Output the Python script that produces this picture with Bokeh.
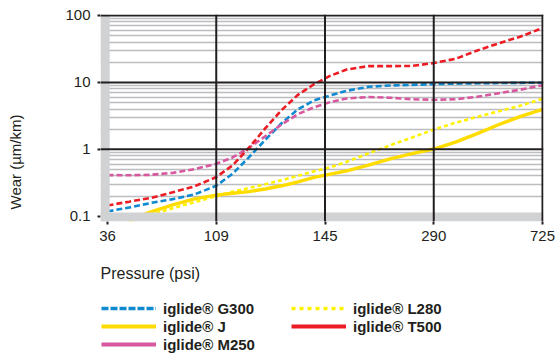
from bokeh.plotting import figure
from bokeh.layouts import column
from bokeh.models import (FixedTicker, CustomJSTickFormatter, Span, BoxAnnotation,
                          Title, Legend, LegendItem, Range1d)
from bokeh.embed import file_html
from bokeh.resources import INLINE

# ---------------- data ----------------
x_labels = ["36", "109", "145", "290", "725"]
pos = [0, 0.2, 0.4, 0.6, 0.8, 1.0, 1.15, 1.3, 1.45, 1.6, 1.75, 1.9, 2.05, 2.2,
       2.4, 2.6, 2.8, 3.0, 3.2, 3.4, 3.6, 3.8, 4.0]
g300 = [0.118, 0.135, 0.158, 0.18, 0.212, 0.285, 0.43, 0.76, 1.38, 2.45, 3.95, 5.4,
        6.4, 7.5, 8.6, 9.0, 9.2, 9.4, 9.6, 9.7, 9.8, 9.85, 9.9]
t500 = [0.145, 0.165, 0.188, 0.228, 0.28, 0.385, 0.575, 1.05, 2.05, 3.85, 6.5, 9.4,
        12.6, 15.6, 17.5, 17.5, 17.6, 19.5, 22.5, 30.0, 38.5, 48.5, 65.0]
m250 = [0.412, 0.41, 0.416, 0.445, 0.505, 0.608, 0.755, 1.05, 1.56, 2.35, 3.35, 4.25,
        5.1, 5.75, 6.05, 5.9, 5.6, 5.5, 5.6, 6.1, 6.9, 7.8, 9.1]
pos_y = [0.2, 0.4, 0.6, 0.8, 1.0, 1.15, 1.3, 1.45, 1.6, 1.75, 1.9, 2.05, 2.2,
         2.4, 2.6, 2.8, 3.0, 3.2, 3.4, 3.6, 3.8, 4.0]
j = [0.09, 0.116, 0.148, 0.182, 0.207, 0.22, 0.233, 0.255, 0.285, 0.325, 0.38, 0.425,
     0.475, 0.58, 0.72, 0.86, 1.01, 1.28, 1.72, 2.35, 3.1, 3.95]
l280 = [0.085, 0.105, 0.132, 0.162, 0.2, 0.232, 0.264, 0.3, 0.345, 0.4, 0.47, 0.54,
        0.65, 0.87, 1.15, 1.5, 1.97, 2.5, 3.05, 3.7, 4.5, 5.7]
y_ticks = [0.1, 1, 10, 100]
y_tick_labels = ["0.1", "1", "10", "100"]
series_names = ["iglide® G300", "iglide® J", "iglide® M250", "iglide® L280", "iglide® T500"]

# ---------------- style ----------------
FONT = "Liberation Sans"
TXT = "#231f20"
BAND = "#d1d2d4"
MINOR = "#bcbdc0"
BLUE, RED, PINK, YEL, LEMON = "#0f8ad0", "#ec1c24", "#d8589f", "#ffdc00", "#fff200"

W = 557
x0, x1 = -0.0644, 4.0092
y0, y1 = 0.0834, 103.5

p = figure(width=W, height=300, output_backend="svg", toolbar_location=None,
           y_axis_type="log", x_range=Range1d(x0, x1), y_range=Range1d(y0, y1),
           min_border_left=100, min_border_right=14, min_border_top=14,
           min_border_bottom=78)
p.outline_line_color = None
p.background_fill_color = "white"
p.border_fill_color = "white"

# grids
minor = [m * 10.0 ** e for e in (-1, 0, 1) for m in range(2, 10)]
yt = FixedTicker(ticks=y_ticks, minor_ticks=minor)
p.yaxis.ticker = yt
p.ygrid.ticker = yt
p.ygrid.grid_line_color = None
p.ygrid.minor_grid_line_color = MINOR
p.ygrid.minor_grid_line_width = 1.6
p.xgrid.visible = False

# data lines
p.line(pos, g300, line_color=BLUE, line_width=2.6, line_dash="6 3")
p.line(pos_y, l280, line_color=LEMON, line_width=2.6, line_dash="4 3")
p.line(pos_y, j, line_color=YEL, line_width=3.4)
p.line(pos, m250, line_color=PINK, line_width=2.6, line_dash="6 3")
p.line(pos, t500, line_color=RED, line_width=2.6, line_dash="6 3")

# gray bands
p.add_layout(BoxAnnotation(left=x0, right=0.02, bottom=y0, top=y1,
                           fill_color=BAND, fill_alpha=1, line_color=None))
p.add_layout(BoxAnnotation(left=x0, right=x1, bottom=y0, top=0.1135,
                           fill_color=BAND, fill_alpha=1, line_color=None))
# black major lines
for v in y_ticks[1:]:
    p.add_layout(Span(location=v, dimension="width", line_color=TXT, line_width=2))
for i in range(1, len(x_labels)):
    p.add_layout(Span(location=i, dimension="height", line_color=TXT, line_width=2))

# axes
xa = p.xaxis[0]
xa.ticker = FixedTicker(ticks=list(range(len(x_labels))))
xa.formatter = CustomJSTickFormatter(args=dict(labels=x_labels),
                                     code="return labels[Math.round(tick)];")
ya = p.yaxis[0]
ya.formatter = CustomJSTickFormatter(args=dict(t=y_ticks, l=y_tick_labels),
    code="for (let i = 0; i < t.length; i++) { if (Math.abs(Math.log10(tick) - Math.log10(t[i])) < 1e-6) return l[i]; } return '';")
for ax in (xa, ya):
    ax.axis_line_color = None
    ax.major_tick_out = 3
    ax.major_tick_in = 0
    ax.major_tick_line_color = TXT
    ax.major_tick_line_width = 2
    ax.minor_tick_line_color = None
    ax.major_label_text_font = FONT
    ax.major_label_text_font_size = "15px"
    ax.major_label_text_color = TXT
xa.major_label_standoff = 6
ya.major_label_standoff = 6

# left: spacer + y title (placed off-centre as in the original)
p.add_layout(Title(text=" ", standoff=34, text_font_size="2px"), "left")
p.add_layout(Title(text="Wear (µm/km)", align="left", offset=12, standoff=2,
                   text_font=FONT, text_font_size="15px", text_font_style="normal",
                   text_color=TXT), "left")
p.add_layout(Title(text="Pressure (psi)", align="left", offset=0, standoff=38,
                   text_font=FONT, text_font_size="16px", text_font_style="normal",
                   text_color=TXT), "below")

# ---------------- legend figure ----------------
q = figure(width=W, height=58, output_backend="svg", toolbar_location=None,
           x_range=Range1d(0, 1), y_range=Range1d(1000, 2000),
           x_axis_location=None, y_axis_location=None, min_border=0)
q.outline_line_color = None
q.grid.visible = False
q.border_fill_color = "white"
q.background_fill_color = "white"

# legend samples drawn as in the original legend (lines themselves out of view)
r_g = q.line(pos, g300, line_color=BLUE, line_width=3.5, line_dash="7 2")
r_j = q.line(pos_y, j, line_color=YEL, line_width=3.8)
r_m = q.line(pos, m250, line_color=PINK, line_width=3.8)
r_l = q.line(pos_y, l280, line_color=LEMON, line_width=3.5, line_dash="4 4")
r_t = q.line(pos, t500, line_color=RED, line_width=3.8)

def mk_legend(names, rends, loc):
    return Legend(items=[LegendItem(label=n, renderers=[r]) for n, r in zip(names, rends)],
                  location=loc, orientation="vertical",
                  glyph_width=55, glyph_height=18, label_height=18,
                  label_standoff=7, spacing=0, padding=0, margin=0,
                  border_line_color=None, background_fill_alpha=0,
                  label_text_font=FONT, label_text_font_size="15px",
                  label_text_font_style="bold", label_text_color=TXT)

q.add_layout(mk_legend(series_names[:3], [r_g, r_j, r_m], (1, 5)))
q.add_layout(mk_legend(series_names[3:], [r_l, r_t], (191, 23)))

open("out.html", "w").write(file_html(column(p, q, spacing=0), INLINE))
